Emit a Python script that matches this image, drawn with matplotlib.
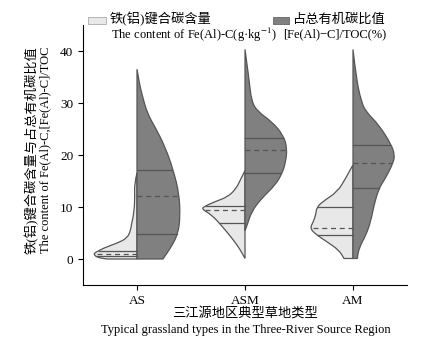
import matplotlib
matplotlib.use("Agg")
import matplotlib.pyplot as plt
from matplotlib.patches import Rectangle, PathPatch
from matplotlib.path import Path
import numpy as np

plt.rcParams['font.family'] = ['Liberation Serif', 'Noto Sans CJK SC']
plt.rcParams['mathtext.fontset'] = 'stix'
plt.rcParams['font.size'] = 9

categories = ["AS", "ASM", "AM"]

# half-violin outlines: (value, half width)
as_fe_y = [16.5, 14.6, 11.4, 8.1, 6.9, 5.6, 4.0, 3.0, 2.1, 1.2, 0.9, 0.3, 0.0]
as_fe_w = [0.0, 0.025, 0.019, 0.034, 0.05, 0.058, 0.09, 0.19, 0.31, 0.39, 0.40, 0.37, 0.28]
as_toc_y = [36.5, 34.0, 31.9, 28.0, 25.4, 21.6, 17.1, 12.6, 8.1, 4.9, 2.4, 0.0]
as_toc_w = [0.0, 0.02, 0.043, 0.095, 0.167, 0.26, 0.336, 0.39, 0.40, 0.38, 0.32, 0.24]

asm_fe_y = [17.0, 15.5, 13.6, 12.0, 11.0, 10.1, 9.6, 8.5, 6.5, 4.0, 2.0, 0.1]
asm_fe_w = [0.0, 0.037, 0.08, 0.155, 0.28, 0.377, 0.40, 0.31, 0.22, 0.12, 0.05, 0.0]
asm_toc_y = [40.3, 34.7, 30.3, 28.3, 26.4, 23.8, 21.3, 18.7, 16.5, 14.2, 11.7, 9.1, 6.5, 5.5]
asm_toc_w = [0.0, 0.037, 0.06, 0.12, 0.25, 0.355, 0.39, 0.377, 0.345, 0.28, 0.155, 0.06, 0.02, 0.0]

am_fe_y = [18.1, 15.5, 12.9, 11.0, 9.9, 8.5, 7.2, 5.9, 4.75, 3.3, 1.7, 0.1]
am_fe_w = [0.0, 0.068, 0.145, 0.284, 0.336, 0.345, 0.367, 0.398, 0.345, 0.24, 0.13, 0.083]
am_toc_y = [40.3, 34.7, 30.3, 28.3, 25.8, 22.0, 20.0, 18.5, 15.5, 13.6, 10.4, 7.2, 4.6, 2.1, 0.1]
am_toc_w = [0.0, 0.03, 0.077, 0.12, 0.24, 0.355, 0.386, 0.373, 0.30, 0.24, 0.195, 0.164, 0.12, 0.055, 0.04]

# quartiles (Q1, median, Q3)
fe_quart = [[0.5, 0.9, 1.5], [6.9, 9.4, 10.1], [4.6, 5.9, 10.0]]
toc_quart = [[4.9, 12.1, 17.1], [16.5, 21.0, 23.3], [13.6, 18.4, 22.0]]

fe_shapes = [(as_fe_y, as_fe_w), (asm_fe_y, asm_fe_w), (am_fe_y, am_fe_w)]
toc_shapes = [(as_toc_y, as_toc_w), (asm_toc_y, asm_toc_w), (am_toc_y, am_toc_w)]

light = "#e8e8e8"
dark = "#808080"
edge = "#555555"

W, H = 429, 351
fig = plt.figure(figsize=(4.29, 3.51), dpi=100)
ax = fig.add_axes([83 / W, 1 - 285 / H, 324 / W, 260 / H])


def half_violin(pos, ys, ws, quart, side, color):
    ys = np.array(ys)
    ws = np.array(ws)
    pts = np.column_stack([pos + side * ws, ys])
    # smooth outline: quadratic curves through midpoints
    verts = [pts[0]]
    codes = [Path.MOVETO]
    for i in range(1, len(pts) - 1):
        mid = (pts[i] + pts[i + 1]) / 2
        verts += [pts[i], mid]
        codes += [Path.CURVE3, Path.CURVE3]
    verts += [pts[-1], (pos, ys[-1]), (pos, ys[0]), pts[0]]
    codes += [Path.LINETO, Path.LINETO, Path.LINETO, Path.CLOSEPOLY]
    ax.add_patch(PathPatch(Path(verts, codes), facecolor=color, edgecolor=edge,
                           linewidth=0.9, zorder=2))
    order = np.argsort(ys)
    for i, q in enumerate(quart):
        w = np.interp(q, ys[order], ws[order])
        ls = (0, (4, 3)) if i == 1 else '-'
        ax.plot([pos, pos + side * w * 0.97], [q, q], color=edge, lw=0.9, ls=ls, zorder=3)


for i in range(len(categories)):
    half_violin(i, *fe_shapes[i], fe_quart[i], -1, light)
    half_violin(i, *toc_shapes[i], toc_quart[i], 1, dark)

ax.set_xlim(-0.5, 2.5)
ax.set_ylim(-5, 45)
ax.set_xticks(range(len(categories)))
ax.set_xticklabels(categories, fontsize=9.5)
ax.set_yticks([0, 10, 20, 30, 40])
ax.tick_params(axis='y', labelsize=9.5)
ax.spines['top'].set_visible(False)
ax.spines['right'].set_visible(False)
ax.tick_params(direction='out', length=3.5, width=0.8)

# axis titles, one text per line
ax.text((32 - 83) / 324, 0.52, "铁(铝)键合碳含量与占总有机碳比值", transform=ax.transAxes,
        rotation=90, ha='center', va='center', fontsize=9.5)
ax.text((45 - 83) / 324, 0.52, "The content of Fe(Al)-C,[Fe(Al)-C]/TOC", transform=ax.transAxes,
        rotation=90, ha='center', va='center', fontsize=9)
fig.text(245 / W, 1 - 313 / H, "三江源地区典型草地类型", ha='center', va='center', fontsize=9.5)
fig.text(246 / W, 1 - 330 / H, "Typical grassland types in the Three-River Source Region",
         ha='center', va='center', fontsize=9)

# legend drawn by hand (two-line labels, box aligned with first line)
fig.add_artist(Rectangle((88 / W, 1 - 24 / H), 18 / W, 7 / H, transform=fig.transFigure,
                         facecolor=light, edgecolor="#aaaaaa", lw=0.6))
fig.add_artist(Rectangle((273 / W, 1 - 24 / H), 16 / W, 7 / H, transform=fig.transFigure,
                         facecolor=dark, edgecolor="#666666", lw=0.6))
fig.text(110 / W, 1 - 19.5 / H, "铁(铝)键合碳含量", va='center', ha='left', fontsize=9.5)
fig.text(111 / W, 1 - 34.5 / H, "The content of Fe(Al)-C(g·kg$^{-1}$)", va='center', ha='left')
fig.text(293 / W, 1 - 19.5 / H, "占总有机碳比值", va='center', ha='left', fontsize=9.5)
fig.text(283 / W, 1 - 34.5 / H, "[Fe(Al)−C]/TOC(%)", va='center', ha='left')

fig.savefig("out.png", dpi=100)
